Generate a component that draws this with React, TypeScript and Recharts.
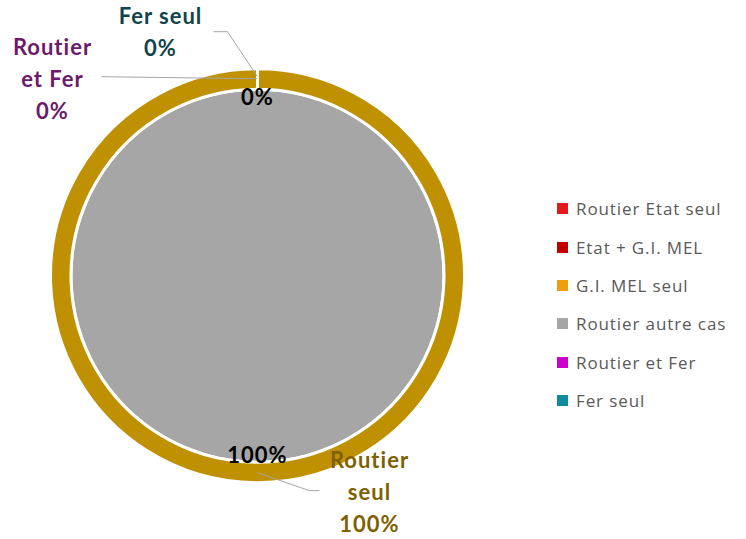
import { PieChart, Pie, Cell, Legend } from "recharts";

// inner pie (legend categories)
const innerNames = [
  "Routier Etat seul",
  "Etat + G.I. MEL",
  "G.I. MEL seul",
  "Routier autre cas",
  "Routier et Fer",
  "Fer seul",
];
const innerValues = [0, 0, 0, 100, 0, 0];
const innerColors = ["#E3191E", "#C00000", "#EE9F0F", "#A6A6A6", "#CC00CC", "#0E8A9C"];

// outer ring
const outerNames = ["Routier seul", "Routier et Fer", "Fer seul"];
const outerValues = [100, 0, 0];
const outerColor = "#BF9000";
const outerLabelColors = ["#7F6000", "#6C1A6C", "#0F444C"];
const outerLabelLines = [["Routier", "seul"], ["Routier", "et Fer"], ["Fer seul"]];

const innerData = innerNames.map((name, i) => ({ name, value: innerValues[i] }));
const outerData = outerNames.map((name, i) => ({ name, value: outerValues[i] }));

const RADIAN = Math.PI / 180;
const polar = (cx: number, cy: number, r: number, angle: number) => ({
  x: cx + Math.cos(-angle * RADIAN) * r,
  y: cy + Math.sin(-angle * RADIAN) * r,
});

const FONT = "Lato, 'Open Sans', sans-serif";
const LINE_H = 32;

// where each outer label sits, relative to its anchor on the ring
const outerLayout: Record<string, { r: number; elbow: [number, number]; end: [number, number]; text: [number, number] }> = {
  "Routier seul": { r: 197, elbow: [52, 18], end: [62, 18], text: [112, -13] },
  "Routier et Fer": { r: 197, elbow: [-80, -1], end: [-156, -2], text: [-205, -32] },
  "Fer seul": { r: 199, elbow: [-30, -45], end: [-44, -45], text: [-97, -61] },
};

const labelStyle = { fontVariantLigatures: "none" as const, letterSpacing: 1 };

const renderInnerLabel = (p: any) => {
  const { cx, cy, midAngle, outerRadius, index, value, percent } = p;
  if (value === 0 && index !== innerValues.indexOf(0)) return null;
  const pt = polar(cx, cy, outerRadius - 6, midAngle);
  return (
    <text
      x={pt.x}
      y={pt.y}
      textAnchor="middle"
      dominantBaseline="central"
      fill="#000"
      fontFamily={FONT}
      fontWeight={700}
      fontSize={22}
      style={labelStyle}
    >
      {`${Math.round(percent * 100)}%`}
    </text>
  );
};

const renderOuterLabel = (p: any) => {
  const { cx, cy, midAngle, index, percent, name } = p;
  const l = outerLayout[name];
  if (!l) return null;
  const a = polar(cx, cy, l.r, midAngle);
  const lines = [...outerLabelLines[index], `${Math.round(percent * 100)}%`];
  return (
    <g>
      <polyline
        points={`${a.x},${a.y} ${a.x + l.elbow[0]},${a.y + l.elbow[1]} ${a.x + l.end[0]},${a.y + l.end[1]}`}
        fill="none"
        stroke="#A6A6A6"
        strokeWidth={1}
      />
      <text
        textAnchor="middle"
        fill={outerLabelColors[index]}
        fontFamily={FONT}
        fontWeight={700}
        fontSize={22}
        style={labelStyle}
      >
        {lines.map((t, i) => (
          <tspan
            key={i}
            x={a.x + l.text[0]}
            y={a.y + l.text[1] + i * LINE_H}
            dominantBaseline="central"
          >
            {t}
          </tspan>
        ))}
      </text>
    </g>
  );
};

const LegendContent = () => (
  <div style={{ fontFamily: "'Open Sans', sans-serif", fontSize: 17, letterSpacing: 0.9, color: "#595959" }}>
    {innerNames.map((name, i) => (
      <div key={name} style={{ display: "flex", alignItems: "center", height: 38.4 }}>
        <span
          style={{
            display: "inline-block",
            width: 11,
            height: 11,
            background: innerColors[i],
            marginRight: 8,
          }}
        />
        <span>{name}</span>
      </div>
    ))}
  </div>
);

export default function App() {
  return (
    <div style={{ position: "absolute", left: 0, top: 0, width: 746, height: 539, background: "#fff" }}>
      <PieChart width={746} height={539} margin={{ top: 0, right: 0, bottom: 0, left: 0 }}>
        <Pie
          data={innerData}
          dataKey="value"
          nameKey="name"
          cx={257.5}
          cy={275.7}
          outerRadius={185}
          startAngle={90}
          endAngle={-270}
          stroke="none"
          label={renderInnerLabel}
          labelLine={false}
          isAnimationActive={false}
        >
          {innerData.map((d, i) => (
            <Cell key={d.name} fill={innerColors[i]} />
          ))}
        </Pie>
        <Pie
          data={outerData}
          dataKey="value"
          nameKey="name"
          cx={257.5}
          cy={275.7}
          innerRadius={186.5}
          outerRadius={207}
          startAngle={90}
          endAngle={-270}
          stroke="#fff"
          strokeWidth={3}
          label={renderOuterLabel}
          labelLine={false}
          isAnimationActive={false}
        >
          {outerData.map((d) => (
            <Cell key={d.name} fill={outerColor} />
          ))}
        </Pie>
        <Legend
          layout="vertical"
          content={<LegendContent />}
          wrapperStyle={{ left: 557, top: 189.5, width: 189, bottom: "auto", right: "auto" }}
        />
      </PieChart>
    </div>
  );
}
